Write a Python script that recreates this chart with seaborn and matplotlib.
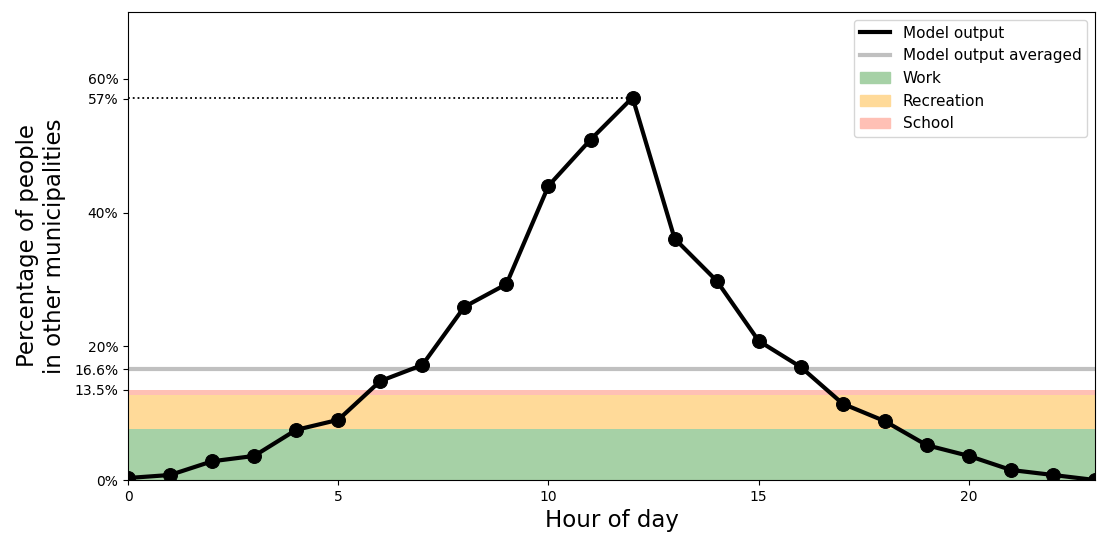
import numpy as np
import pandas as pd
import seaborn as sns
import matplotlib.pyplot as plt
from matplotlib.patches import Patch
from matplotlib.lines import Line2D

# valores
horas = list(range(24))
saida_modelo = [0.3, 0.75, 2.8, 3.6, 7.5, 9.0, 14.8, 17.2, 25.9, 29.3, 44.0, 50.9,
                57.2, 36.1, 29.8, 20.8, 16.9, 11.4, 8.8, 5.2, 3.6, 1.5, 0.75, 0.0]
media_modelo = 16.6
atividades = ['Work', 'Recreation', 'School']
parcelas = [7.6, 5.1, 0.8]   # empilhadas: 7.6, 12.7, 13.5
cores = ['#a6d1a6', '#ffda99', '#ffc0b5']
yticks = [0, 13.5, 16.6, 20, 40, 57, 60]
ytick_labels = ['0%', '13.5%', '16.6%', '20%', '40%', '57%', '60%']

df = pd.DataFrame({'hora': horas, 'pct': saida_modelo})

fig = plt.figure(figsize=(11, 5.35), dpi=100)
ax = fig.add_axes([0.1164, 0.1028, 0.8791, 0.8748])

# faixas empilhadas das atividades
base = 0
for nome, valor, cor in zip(atividades, parcelas, cores):
    ax.axhspan(base, base + valor, color=cor, lw=0, zorder=1)
    base += valor

ax.axhline(media_modelo, color='#c0c0c0', lw=3, zorder=2)

sns.lineplot(data=df, x='hora', y='pct', color='black', lw=3, marker='o',
             markersize=10, markeredgecolor='black', ax=ax, zorder=3)

pico = int(np.argmax(saida_modelo))
ax.plot([0, horas[pico]], [saida_modelo[pico]] * 2, ':', color='black', lw=1.3, zorder=2)

ax.set_xlim(0, 23)
ax.set_ylim(0, 70)
ax.set_xticks([0, 5, 10, 15, 20])
ax.set_yticks(yticks)
ax.set_yticklabels(ytick_labels)
ax.set_xlabel('Hour of day', fontsize=16.5)
ax.set_ylabel('Percentage of people\nin other municipalities', fontsize=16.5, labelpad=6)

handles = [Line2D([], [], color='black', lw=3),
           Line2D([], [], color='#c0c0c0', lw=3)]
handles += [Patch(color=c) for c in cores]
labels = ['Model output', 'Model output averaged'] + atividades
ax.legend(handles, labels, loc='upper right', fontsize=11)

plt.savefig('out.png')
plt.close()
